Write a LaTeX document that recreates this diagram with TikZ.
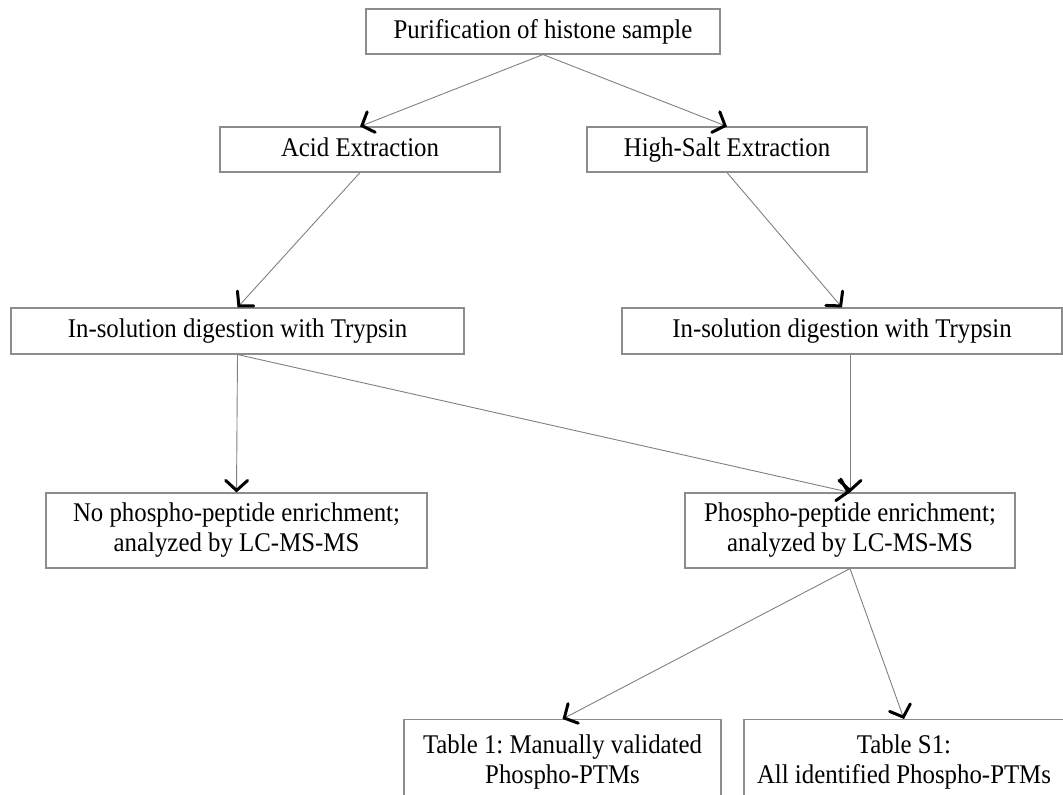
\documentclass[tikz,border=0pt]{standalone}
\usepackage{fontspec}
\setmainfont[FakeStretch=0.92]{Liberation Serif}
\usepackage{tikz}
\usetikzlibrary{arrows.meta}
\definecolor{frame gray}{rgb}{0.55, 0.55, 0.55}
\definecolor{link gray}{rgb}{0.5, 0.5, 0.5}
\frenchspacing

\begin{document}
\begin{tikzpicture}[x=1pt, y=-1pt,
		stage/.style={draw=frame gray, line width=1.1pt, inner sep=0pt, align=center,
			font=\fontsize{27}{30}\selectfont},
		oneline/.style={text height=19pt, text depth=6pt},
		flow/.style={draw=link gray, line width=0.9pt,
			-{Straight Barb[length=10pt, width=22pt, line width=3pt, line cap=round, color=black]}}]
		\useasboundingbox (0, 0) rectangle (1063, 795);
		\clip (0, 0) rectangle (1063, 795);
		% part for the extractions
		\node[stage, oneline, minimum width=354, minimum height=45] (purif) at (543, 31.5) {Purification of histone sample};
		\node[stage, oneline, minimum width=280, minimum height=45] (acid) at (360, 149.5) {Acid Extraction};
		\node[stage, oneline, minimum width=280, minimum height=45] (salt) at (727, 149.5) {High-Salt Extraction};
		% part for digestion
		\node[stage, oneline, minimum width=453, minimum height=46] (ldig) at (237.5, 331) {In-solution digestion with Trypsin};
		\node[stage, oneline, minimum width=440, minimum height=46] (rdig) at (842, 331) {In-solution digestion with Trypsin};
		% part for enrichment and tables
		\node[stage, minimum width=381, minimum height=75] (noenr) at (236.5, 530.5) {No phospho-peptide enrichment;\\analyzed by LC-MS-MS};
		\node[stage, minimum width=330, minimum height=75] (enr) at (850, 530.5) {Phospho-peptide enrichment;\\analyzed by LC-MS-MS};
		\node[stage, minimum width=317, minimum height=84, anchor=north] (tabA) at (562.5, 719) {Table 1: Manually validated\\Phospho-PTMs};
		\node[stage, minimum width=320, minimum height=84, anchor=north] (tabB) at (904, 719) {Table S1:\\All identified Phospho-PTMs};
		% arrows
		\draw[flow] (purif.south) -- (acid.north);
		\draw[flow] (purif.south) -- (salt.north);
		\draw[flow] (acid.south) -- (ldig.north);
		\draw[flow] (salt.south) -- (rdig.north);
		\draw[flow] (ldig.south) -- (noenr.north);
		\draw[flow] (ldig.south) -- (enr.north);
		\draw[flow] (rdig.south -| enr.north) -- (enr.north);
		\draw[flow] (enr.south) -- (tabA.north);
		\draw[flow] (enr.south) -- (tabB.north);
	\end{tikzpicture}
\end{document}
